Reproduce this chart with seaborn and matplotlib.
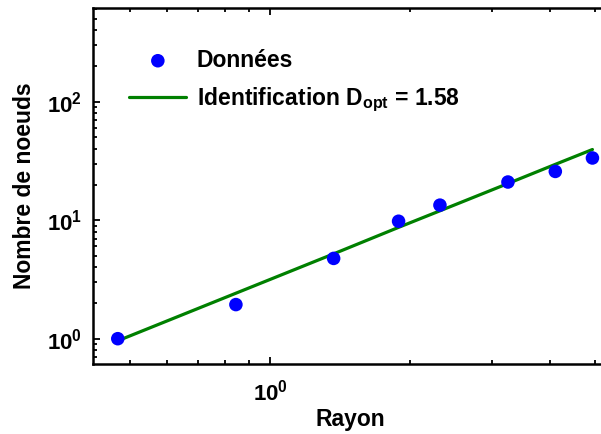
import numpy as np
import pandas as pd
import matplotlib
matplotlib.use('Agg')
import matplotlib.pyplot as plt
import matplotlib.ticker as mticker
import seaborn as sns

# values
rayon = [0.47, 0.844, 1.37, 1.89, 2.32, 3.25, 4.11, 4.94]
noeuds = [1.0, 1.94, 4.76, 9.8, 13.4, 21.0, 25.8, 33.5]
# identified curve, D_opt = 1.58
noeuds_fit = [0.96, 2.42, 5.2, 8.7, 12.0, 20.4, 29.6, 39.5]
d_opt = '1.58'

df = pd.DataFrame({'rayon': rayon, 'noeuds': noeuds, 'fit': noeuds_fit})

sns.set_style("ticks")
plt.rcParams['font.family'] = ['Liberation Sans', 'DejaVu Sans']
plt.rcParams['font.weight'] = 'bold'
plt.rcParams['mathtext.fontset'] = 'custom'
plt.rcParams['mathtext.rm'] = 'Liberation Sans:bold'
plt.rcParams['mathtext.it'] = 'Liberation Sans:bold'
plt.rcParams['mathtext.bf'] = 'Liberation Sans:bold'
plt.rcParams['mathtext.default'] = 'regular'
plt.rcParams['text.color'] = 'black'
plt.rcParams['axes.labelcolor'] = 'black'
plt.rcParams['xtick.color'] = 'black'
plt.rcParams['ytick.color'] = 'black'
plt.rcParams['axes.edgecolor'] = 'black'

fig = plt.figure(figsize=(6.01, 4.34), dpi=100)
ax = fig.add_axes([0.155, 0.161, 0.855, 0.821])

sns.scatterplot(x='rayon', y='noeuds', data=df, ax=ax, color='#0000ff', s=95,
                edgecolor='none', label='Données', zorder=3)
sns.lineplot(x='rayon', y='fit', data=df, ax=ax, color='#008000', linewidth=2.3,
             label='Identification D$_{opt}$ = ' + d_opt, zorder=2)

ax.set_xscale('log')
ax.set_yscale('log')
ax.set_xlim(0.416, 5.31)
ax.set_ylim(0.61, 620)

ax.xaxis.set_major_locator(mticker.FixedLocator([1.0]))
ax.xaxis.set_minor_locator(mticker.LogLocator(base=10, subs=np.arange(2, 10)))
ax.xaxis.set_minor_formatter(mticker.NullFormatter())
ax.yaxis.set_minor_locator(mticker.LogLocator(base=10, subs=np.arange(2, 10)))
ax.yaxis.set_minor_formatter(mticker.NullFormatter())

ax.tick_params(which='both', direction='in', top=True, right=False, width=1.3,
               labelsize=16)
ax.tick_params(which='major', length=5, pad=8)
ax.tick_params(axis='x', which='major', pad=11)
ax.tick_params(which='minor', length=3)
for sp in ax.spines.values():
    sp.set_linewidth(1.8)

ax.set_xlabel('Rayon', fontsize=16.5, fontweight='bold', labelpad=2)
ax.set_ylabel('Nombre de noeuds', fontsize=16.5, fontweight='bold', labelpad=8)

handles, labels = ax.get_legend_handles_labels()
leg = ax.legend(handles, labels, loc='upper left', bbox_to_anchor=(0.03, 0.943),
                frameon=False, fontsize=16.5, handlelength=2.5, handletextpad=0.45,
                labelspacing=0.6)
for t in leg.get_texts():
    t.set_fontweight('bold')

fig.savefig('out.png', dpi=100)
